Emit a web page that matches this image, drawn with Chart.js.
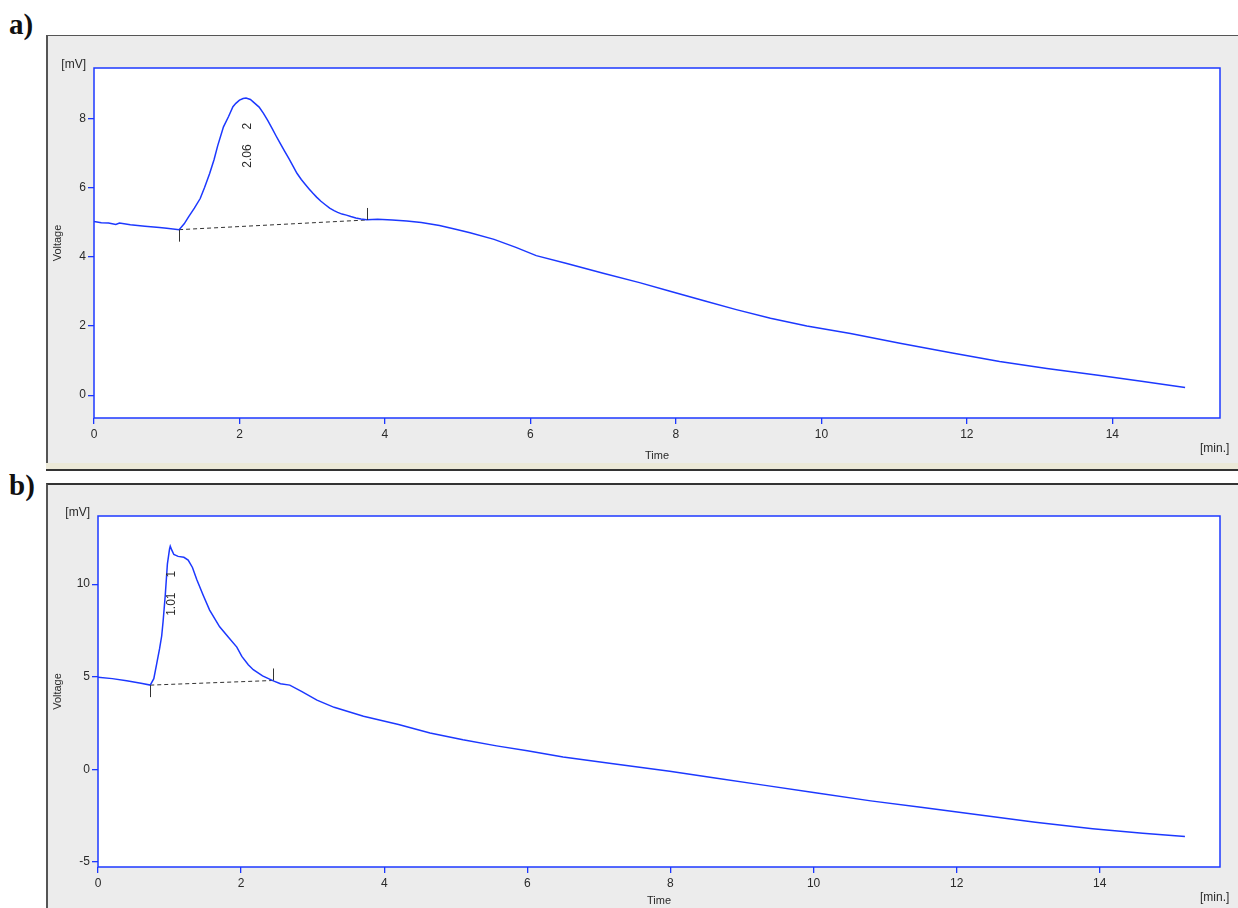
<!DOCTYPE html>
<html>
<head>
<meta charset="utf-8">
<script src="https://cdn.jsdelivr.net/npm/chart.js@4.4.1/dist/chart.umd.min.js"></script>
<style>
  body { margin: 0; width: 1238px; height: 908px; background: #fff; position: relative; overflow: hidden; }
  .tag { position: absolute; left: 9px; font: bold 29px 'Liberation Serif', 'Times New Roman', serif; line-height: 29px; color: #111; }
  .box { position: absolute; left: 46px; width: 1192px; background: #ececec; box-sizing: border-box; border-left: 2px solid #555; }
  .band { position: absolute; left: 46px; width: 1192px; }
  canvas { position: absolute; left: 46px; }
</style>
</head>
<body>
<div class="tag" style="top:10px">a)</div>
<div class="box" style="top:35px;height:428px;border-top:1px solid #555"></div>
<div class="band" style="top:463px;height:6px;background:#ece9d8"></div>
<div class="band" style="top:469px;height:2px;background:#333"></div>
<div class="tag" style="top:471px">b)</div>
<div class="box" style="top:483px;height:425px;border-top:2px solid #333"></div>
<canvas id="chart-a" width="1192" height="428" style="top:35px"></canvas>
<canvas id="chart-b" width="1192" height="425" style="top:483px"></canvas>

<script>
// ---- a) cromatograma 1 ----
const timeA = [0, 0.1, 0.2, 0.3, 0.35, 0.5, 0.7, 0.9, 1.0, 1.17, 1.24, 1.3, 1.38, 1.46, 1.52, 1.59, 1.65, 1.7,
  1.78, 1.85, 1.91, 1.95, 2.0, 2.05, 2.09, 2.15, 2.2, 2.27, 2.33, 2.39, 2.45, 2.5, 2.56, 2.62, 2.68, 2.74,
  2.79, 2.85, 2.9, 2.96, 3.01, 3.06, 3.12, 3.18, 3.24, 3.3, 3.35, 3.41, 3.47, 3.53, 3.6, 3.67, 3.75, 3.9,
  4.1, 4.3, 4.5, 4.75, 5.0, 5.17, 5.5, 5.8, 6.08, 6.5, 7.0, 7.5, 7.92, 8.4, 8.83, 9.3, 9.8, 10.4, 11.08,
  11.8, 12.45, 13.1, 13.83, 14.4, 15.0];
const voltA = [5.02, 4.98, 4.97, 4.93, 4.97, 4.92, 4.88, 4.84, 4.82, 4.78, 4.95, 5.15, 5.4, 5.68, 6.0, 6.4, 6.8, 7.2,
  7.75, 8.05, 8.33, 8.43, 8.52, 8.57, 8.58, 8.54, 8.45, 8.32, 8.14, 7.93, 7.7, 7.5, 7.27, 7.05, 6.83, 6.6,
  6.41, 6.23, 6.1, 5.95, 5.83, 5.72, 5.6, 5.5, 5.4, 5.33, 5.28, 5.23, 5.2, 5.16, 5.12, 5.09, 5.07, 5.08,
  5.06, 5.03, 4.99, 4.9, 4.78, 4.69, 4.5, 4.27, 4.03, 3.8, 3.52, 3.25, 3.0, 2.72, 2.47, 2.22, 2.0, 1.78, 1.5,
  1.22, 0.97, 0.77, 0.57, 0.4, 0.22];
const baseTimeA = [1.17, 3.75];
const baseVoltA = [4.78, 5.06];
const peakA = { t: 2.1, v: 8.58, num: '2', rt: '2.06' };
const xTicksA = [0, 2, 4, 6, 8, 10, 12, 14];
const yTicksA = [0, 2, 4, 6, 8];

// ---- b) cromatograma 2 ----
const timeB = [0, 0.2, 0.4, 0.6, 0.73, 0.78, 0.82, 0.86, 0.89, 0.91, 0.94, 0.97, 1.0, 1.01, 1.03, 1.06, 1.12,
  1.2, 1.26, 1.32, 1.38, 1.47, 1.56, 1.7, 1.82, 1.94, 2.01, 2.1, 2.17, 2.3, 2.45, 2.55, 2.68, 2.85, 3.06,
  3.3, 3.71, 4.2, 4.64, 5.1, 5.57, 6.0, 6.5, 7.2, 7.99, 8.6, 9.3, 10.0, 10.8, 11.5, 12.3, 13.1, 13.9,
  14.6, 15.19];
const voltB = [4.97, 4.9, 4.78, 4.65, 4.55, 4.9, 5.7, 6.5, 7.2, 8.0, 9.4, 11.1, 11.9, 12.05, 11.85, 11.6, 11.5,
  11.45, 11.3, 10.9, 10.25, 9.4, 8.6, 7.7, 7.15, 6.6, 6.1, 5.65, 5.38, 5.05, 4.78, 4.62, 4.55, 4.2, 3.74,
  3.35, 2.87, 2.42, 1.97, 1.6, 1.27, 1.0, 0.67, 0.3, -0.1, -0.45, -0.85, -1.25, -1.7, -2.05, -2.45, -2.85, -3.2,
  -3.45, -3.62];
const baseTimeB = [0.73, 2.45];
const baseVoltB = [4.55, 4.8];
const peakB = { t: 1.01, v: 12.05, num: '1', rt: '1.01' };
const xTicksB = [0, 2, 4, 6, 8, 10, 12, 14];
const yTicksB = [-5, 0, 5, 10];

const BLUE = 'rgb(28,56,255)';
const TEXT = '#2a2a2a';
const FONT = "'Liberation Sans', Arial, sans-serif";

const toPoints = (xs, ys) => xs.map((x, i) => ({ x: x, y: ys[i] }));

// marco azul, marcas de integracion y etiquetas del pico
const framePlugin = {
  id: 'frame',
  beforeDraw(chart) {
    const { ctx, chartArea: a } = chart;
    ctx.save();
    ctx.fillStyle = '#fff';
    ctx.fillRect(a.left, a.top, a.right - a.left, a.bottom - a.top);
    ctx.restore();
  },
  afterDatasetsDraw(chart) {
    const { ctx, chartArea: a, scales } = chart;
    const o = chart.options.plugins.frame;
    ctx.save();
    ctx.strokeStyle = BLUE;
    ctx.lineWidth = 1.5;
    ctx.strokeRect(a.left, a.top, a.right - a.left, a.bottom - a.top);

    // marcas de inicio / fin del pico
    ctx.strokeStyle = '#333';
    ctx.lineWidth = 1;
    const xs = scales.x.getPixelForValue(o.baseT[0]);
    const ys = scales.y.getPixelForValue(o.baseV[0]);
    const xe = scales.x.getPixelForValue(o.baseT[1]);
    const ye = scales.y.getPixelForValue(o.baseV[1]);
    ctx.beginPath();
    ctx.moveTo(Math.round(xs) + 0.5, ys);
    ctx.lineTo(Math.round(xs) + 0.5, ys + 12);
    ctx.moveTo(Math.round(xe) + 0.5, ye);
    ctx.lineTo(Math.round(xe) + 0.5, ye - 12);
    ctx.stroke();

    // etiquetas verticales del pico
    ctx.fillStyle = TEXT;
    ctx.font = '12px ' + FONT;
    ctx.textAlign = 'center';
    ctx.textBaseline = 'middle';
    const px = scales.x.getPixelForValue(o.peak.t);
    const py = scales.y.getPixelForValue(o.peak.v);
    [[o.peak.num, 28], [o.peak.rt, 58]].forEach(([txt, dy]) => {
      ctx.save();
      ctx.translate(px + 1, py + dy);
      ctx.rotate(-Math.PI / 2);
      ctx.fillText(txt, 0, 0);
      ctx.restore();
    });

    // unidades
    ctx.textAlign = 'right';
    ctx.fillText('[mV]', a.left - 8, a.top - 3);
    ctx.textAlign = 'left';
    ctx.fillText('[min.]', a.right - 20, a.bottom + 31);
    ctx.restore();
  }
};

function makeChromatogram(id, cfg) {
  const ctx = document.getElementById(id).getContext('2d');
  return new Chart(ctx, {
    type: 'line',
    data: {
      datasets: [
        {
          data: toPoints(cfg.time, cfg.volt),
          borderColor: BLUE,
          borderWidth: 1.5,
          pointRadius: 0,
          tension: 0
        },
        {
          data: toPoints(cfg.baseT, cfg.baseV),
          borderColor: '#333',
          borderWidth: 1,
          borderDash: [4, 3],
          pointRadius: 0
        }
      ]
    },
    options: {
      responsive: false,
      animation: false,
      devicePixelRatio: 1,
      layout: { padding: { left: 0, top: 33, right: 18, bottom: 0 } },
      scales: {
        x: {
          type: 'linear',
          min: 0,
          max: cfg.xMax,
          afterBuildTicks: s => { s.ticks = cfg.xTicks.map(v => ({ value: v })); },
          afterFit: s => { s.height = cfg.xHeight; },
          border: { display: false },
          grid: { drawOnChartArea: false, drawTicks: true, tickLength: 6, color: BLUE, lineWidth: 1.3 },
          ticks: { autoSkip: false, maxRotation: 0, padding: 3, color: TEXT, font: { family: FONT, size: 12 } },
          title: { display: true, text: 'Time', color: TEXT, font: { family: FONT, size: 11 }, padding: { top: 0, bottom: 0 } }
        },
        y: {
          type: 'linear',
          min: cfg.yMin,
          max: cfg.yMax,
          afterBuildTicks: s => { s.ticks = cfg.yTicks.map(v => ({ value: v })); },
          afterFit: s => { s.width = cfg.yWidth; },
          border: { display: false },
          grid: { drawOnChartArea: false, drawTicks: true, tickLength: 6, color: BLUE, lineWidth: 1.3 },
          ticks: { padding: 2, color: TEXT, font: { family: FONT, size: 12 } },
          title: { display: true, text: 'Voltage', color: TEXT, font: { family: FONT, size: 11 }, padding: { top: 5, bottom: 0 } }
        }
      },
      plugins: {
        legend: { display: false },
        tooltip: { enabled: false },
        frame: { baseT: cfg.baseT, baseV: cfg.baseV, peak: cfg.peak }
      }
    },
    plugins: [framePlugin]
  });
}

makeChromatogram('chart-a', {
  time: timeA, volt: voltA, baseT: baseTimeA, baseV: baseVoltA, peak: peakA,
  xTicks: xTicksA, yTicks: yTicksA, xMax: 15.48, yMin: -0.66, yMax: 9.45,
  xHeight: 45, yWidth: 48
});

makeChromatogram('chart-b', {
  time: timeB, volt: voltB, baseT: baseTimeB, baseV: baseVoltB, peak: peakB,
  xTicks: xTicksB, yTicks: yTicksB, xMax: 15.68, yMin: -5.27, yMax: 13.68,
  xHeight: 41, yWidth: 52
});
</script>
</body>
</html>
